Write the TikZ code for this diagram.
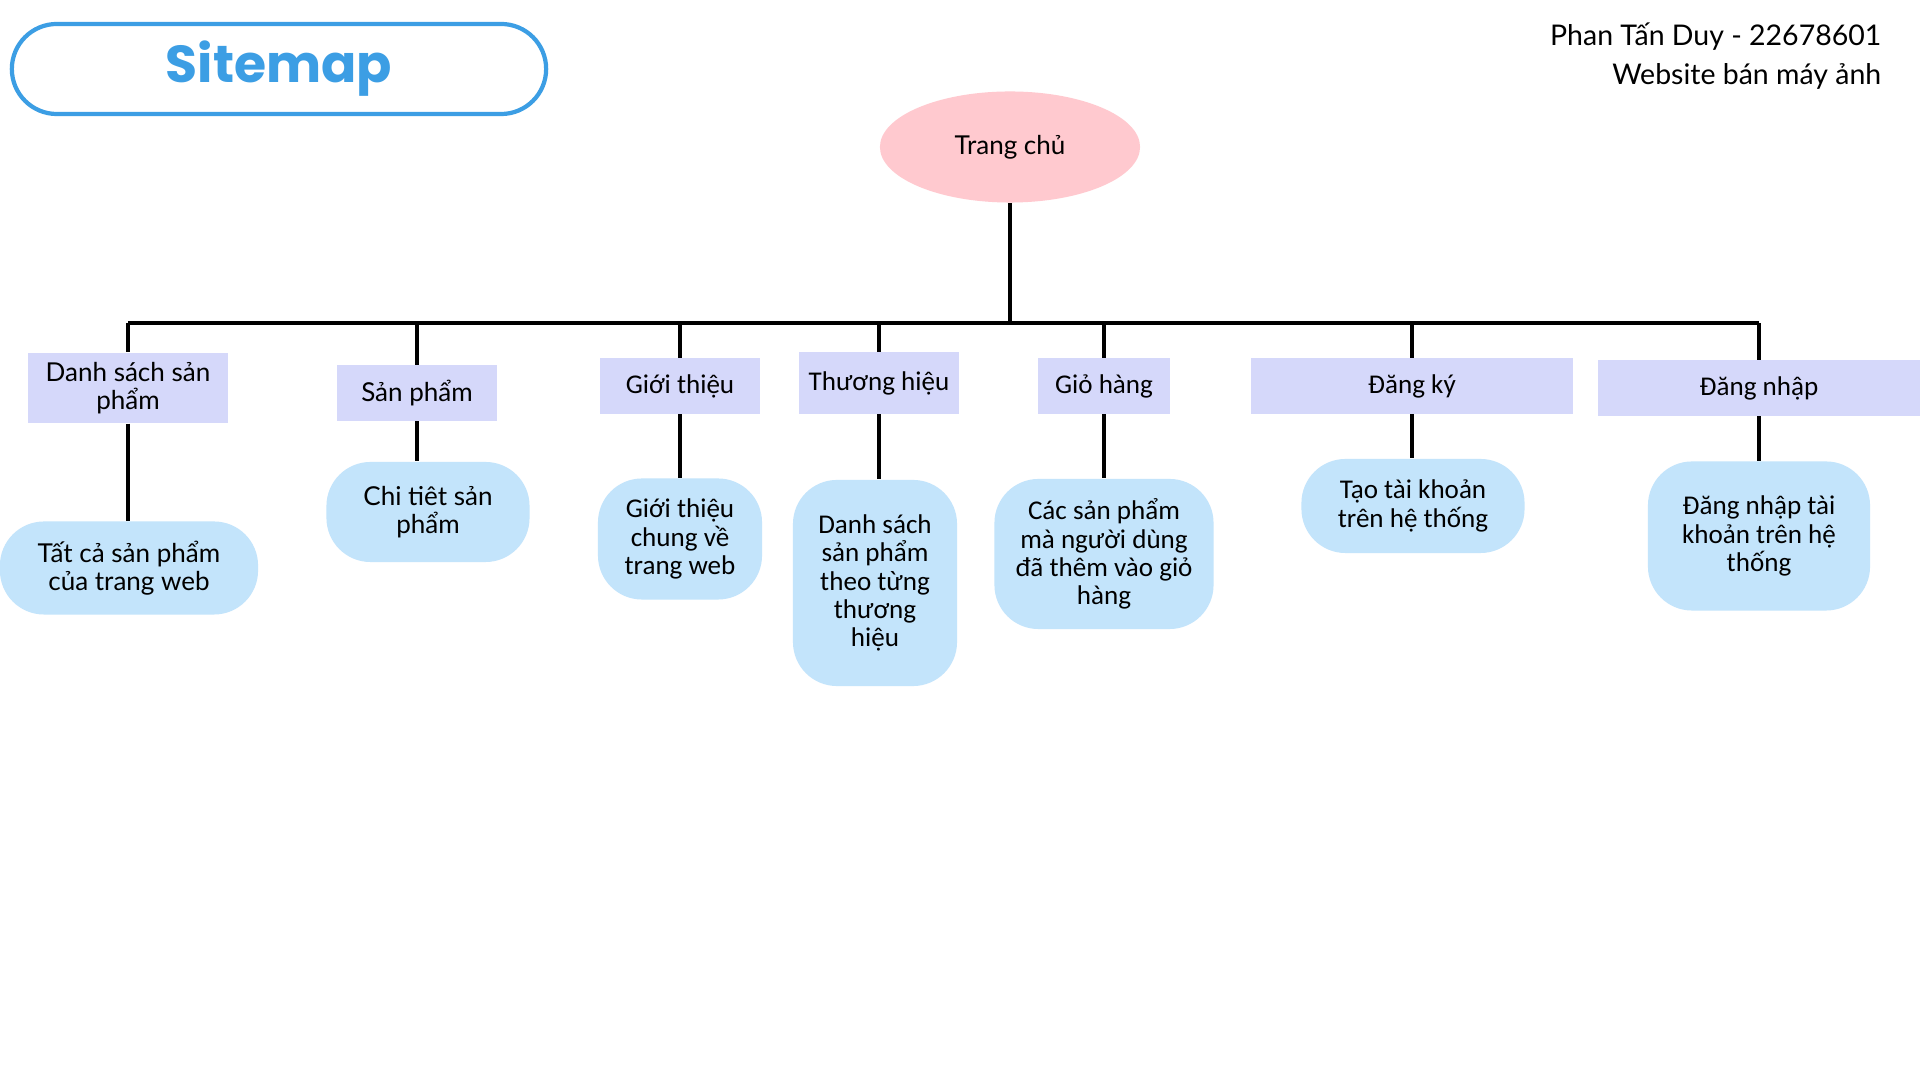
\documentclass[tikz,border=0pt]{standalone}
\usepackage{fontspec}
\setmainfont{Lato}
\newfontfamily\calfont{Carlito}
\newfontfamily\titlefont{Poppins}
\usetikzlibrary{shapes.geometric}
\definecolor{homepink}{HTML}{FFC9CF}
\definecolor{pagelav}{HTML}{D5D8FA}
\definecolor{leafblue}{HTML}{C3E4FB}
\definecolor{titleblue}{HTML}{3C9EE4}

\begin{document}
\begin{tikzpicture}[
      x=0.01cm, y=-0.01cm,
      every node/.style={font=\fontsize{7.4}{8}\selectfont},
      cal/.style={font=\calfont\fontsize{7.7}{8}\selectfont},
      page/.style={fill=pagelav,align=center,inner sep=2pt,minimum height=0.55cm},
      leaf/.style={fill=leafblue,align=center,inner sep=2pt,rounded corners=0.44cm},
      link/.style={draw=black,line width=0.9pt},
    ]
      \fill[white] (0,0) rectangle (1920,1080);
      \useasboundingbox (0,0) rectangle (1920,1080);

      \node[draw=titleblue,line width=1.2pt,rounded corners=0.45cm,
            minimum width=5.34cm,minimum height=0.9cm,text=titleblue,
            font=\titlefont\bfseries\fontsize{14.8}{18}\selectfont] (title) at (279,69) {Sitemap};
      \node[anchor=north east,align=right,inner sep=0pt,
            font=\fontsize{8.1}{11}\selectfont] (author) at (1882,22)
            {Phan Tấn Duy - 22678601\\Website bán máy ảnh};

      \node[ellipse,fill=homepink,minimum width=2.6cm,minimum height=1.11cm] (home) at (1010,147) {Trang chủ};
      \coordinate (bus) at (1010,323);

      \node[page,minimum width=2cm,minimum height=0.7cm] (dssp) at (128,388) {Danh sách sản\\phẩm};
      \node[page,minimum width=1.59cm] (sp)   at (417,393)  {Sản phẩm};
      \node[page,cal,minimum width=1.59cm] (gt) at (680,386) {Giới thiệu};
      \node[page,cal,minimum width=1.59cm,minimum height=0.61cm] (th) at (879,383) {Thương hiệu};
      \node[page,cal,minimum width=1.32cm] (gh) at (1104,386) {Giỏ hàng};
      \node[page,cal,minimum width=3.21cm] (dk) at (1412,386) {Đăng ký};
      \node[page,cal,minimum width=3.22cm] (dn) at (1759,388) {Đăng nhập};

      \node[leaf,minimum width=2.58cm,minimum height=0.93cm] (tcsp) at (129,568) {Tất cả sản phẩm\\của trang web};
      \node[leaf,minimum width=2.03cm,minimum height=1cm] (ctsp) at (428,512) {Chi tiêt sản\\phẩm};
      \node[leaf,cal,minimum width=1.64cm,minimum height=1.21cm] (gtc) at (680,539) {Giới thiệu\\chung về\\trang web};
      \node[leaf,cal,minimum width=1.64cm,minimum height=2.06cm] (dsth) at (875,583) {Danh sách\\sản phẩm\\theo từng\\thương\\hiệu};
      \node[leaf,cal,minimum width=2.19cm,minimum height=1.5cm] (ghsp) at (1104,554) {Các sản phẩm\\mà người dùng\\đã thêm vào giỏ\\hàng};
      \node[leaf,cal,minimum width=2.23cm,minimum height=0.94cm] (tk) at (1413,506) {Tạo tài khoản\\trên hệ thống};
      \node[leaf,cal,minimum width=2.22cm,minimum height=1.49cm] (dntk) at (1759,536) {Đăng nhập tài\\khoản trên hệ\\thống};

      \draw[link] (home.south) -- (bus);
      \draw[link] (dssp.north |- bus) -- (dn.north |- bus);
      \foreach \n in {dssp,sp,gt,th,gh,dk,dn}
        \draw[link] (\n.north |- bus) -- (\n.north);
      \draw[link] (dssp.south) -- (dssp.south |- tcsp.north);
      \draw[link] (sp.south) -- (sp.south |- ctsp.north);
      \draw[link] (gt.south) -- (gt.south |- gtc.north);
      \draw[link] (th.south) -- (th.south |- dsth.north);
      \draw[link] (gh.south) -- (gh.south |- ghsp.north);
      \draw[link] (dk.south) -- (dk.south |- tk.north);
      \draw[link] (dn.south) -- (dn.south |- dntk.north);
    \end{tikzpicture}
\end{document}
